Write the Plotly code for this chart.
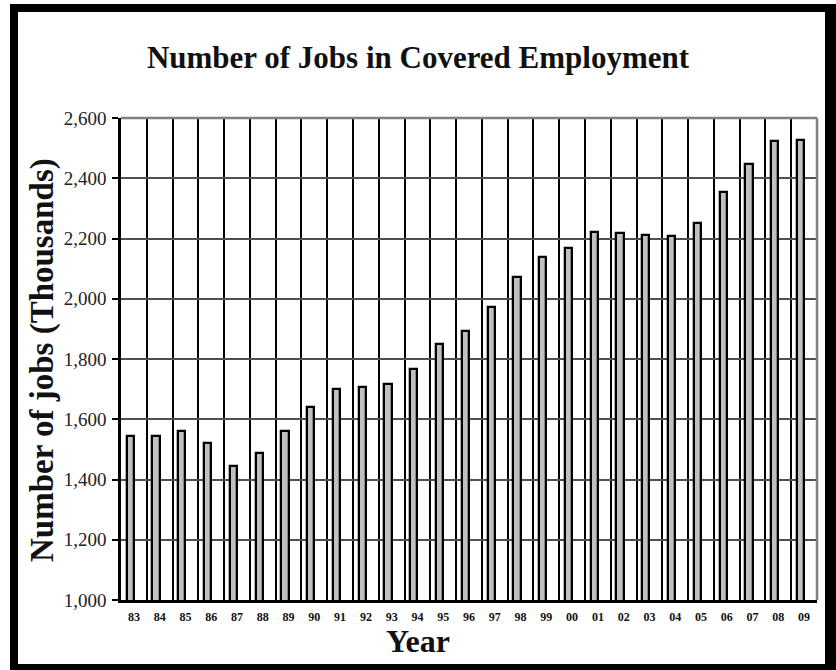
import plotly.graph_objects as go

years = ["83", "84", "85", "86", "87", "88", "89", "90", "91", "92", "93", "94", "95", "96",
         "97", "98", "99", "00", "01", "02", "03", "04", "05", "06", "07", "08", "09"]
jobs = [1546, 1546, 1560, 1522, 1445, 1487, 1562, 1642, 1700, 1706, 1717, 1767, 1850, 1894,
        1971, 2073, 2138, 2168, 2223, 2218, 2213, 2208, 2253, 2353, 2447, 2523, 2526]
y_ticks = [1000, 1200, 1400, 1600, 1800, 2000, 2200, 2400, 2600]

W, H = 836, 670
L, R, T, B = 121, 817, 118, 600


def px(x):
    return (x - L) / (R - L)


def py(y):
    return (B - y) / (B - T)


SERIF = "Liberation Serif, Times New Roman, serif"

fig = go.Figure()
fig.add_trace(go.Bar(
    x=years, y=jobs,
    width=0.28, offset=-0.28,
    marker=dict(color="#C0C0C0", line=dict(color="black", width=2.3)),
    hoverinfo="x+y",
))

shapes = []
# top and right plot border in gray
shapes.append(dict(type="line", xref="paper", yref="paper", x0=0, x1=1, y0=1, y1=1,
                   line=dict(color="#808080", width=2.5), layer="above"))
shapes.append(dict(type="line", xref="paper", yref="paper", x0=1, x1=1, y0=0, y1=1,
                   line=dict(color="#808080", width=2.5), layer="above"))
# outer frame
for (x0, x1, y0, y1) in [(10, 18, 4, 670), (10, 836, 4, 12), (825, 836, 4, 670), (10, 836, 664, 670)]:
    shapes.append(dict(type="rect", xref="paper", yref="paper",
                       x0=px(x0), x1=px(x1), y0=py(y1), y1=py(y0),
                       fillcolor="black", line=dict(width=0), layer="above"))

fig.update_layout(
    width=W, height=H,
    margin=dict(l=L, r=W - R, t=T, b=H - B),
    paper_bgcolor="white", plot_bgcolor="white",
    showlegend=False,
    bargap=0,
    title=dict(text="<b>Number of Jobs in Covered Employment</b>",
               x=0.5, xanchor="center", y=1 - 57 / H, yanchor="middle",
               font=dict(family=SERIF, size=31, color="#111111")),
    shapes=shapes,
    annotations=[
        dict(text="<b>Number of jobs (Thousands)</b>", xref="paper", yref="paper",
             x=px(42), y=py(360), xanchor="center", yanchor="middle",
             textangle=-90, showarrow=False,
             font=dict(family=SERIF, size=33, color="#111111")),
        dict(text="<b>Year</b>", xref="paper", yref="paper",
             x=px(418), y=py(641), xanchor="center", yanchor="middle",
             showarrow=False,
             font=dict(family=SERIF, size=32, color="#111111")),
    ],
    font=dict(family=SERIF, color="#111111"),
)

fig.update_xaxes(
    type="category",
    tickson="boundaries",
    showgrid=True, gridcolor="black", gridwidth=2.2,
    ticks="", ticklen=0,
    showline=True, linecolor="black", linewidth=3,
    tickfont=dict(family=SERIF, size=12, color="#111111"),
    tickprefix="<b>", ticksuffix="</b>",
    ticklabelstandoff=4,
    range=[-0.5, len(years) - 0.5],
)
fig.update_yaxes(
    range=[1000, 2600],
    tickvals=y_ticks, tickformat=",",
    showgrid=True, gridcolor="#505050", gridwidth=1.5,
    ticks="outside", ticklen=6, tickwidth=2, tickcolor="black",
    showline=True, linecolor="black", linewidth=2.5,
    tickfont=dict(family=SERIF, size=19, color="#222222"),
    ticklabelstandoff=2,
    zeroline=False,
)

fig.write_html("out.html", config={"displayModeBar": False},
               post_script="document.body.style.margin='0';")
